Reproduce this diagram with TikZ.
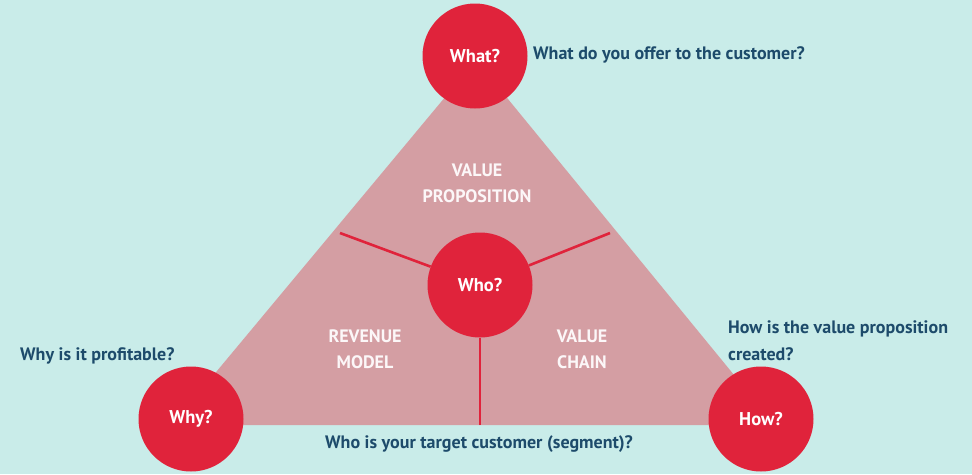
\documentclass[tikz,border=0pt]{standalone}
\usepackage{fontspec}
\setmainfont{PT Sans}
\usepackage{tikz}
\usetikzlibrary{calc,positioning}
\definecolor{bgcyan}{HTML}{C9ECE9}
\definecolor{tri}{HTML}{D49EA3}
\definecolor{bubred}{HTML}{E0233B}
\definecolor{navy}{HTML}{1D4B6B}
\tikzset{
  bubble/.style={circle,fill=bubred,minimum size=105pt,inner sep=0pt,
    text=white,font=\fontsize{18.5}{22}\selectfont\bfseries},
  question/.style={text=navy,font=\fontsize{18}{27}\selectfont\bfseries,
    inner sep=0pt,align=left},
  area/.style={text=white!92!tri,font=\fontsize{18}{26}\selectfont\bfseries,
    inner sep=0pt,align=center},
  spoke/.style={bubred,line width=2.6pt}
}

\begin{document}
\begin{tikzpicture}[x=1pt,y=-1pt]
  \fill[bgcyan] (0,0) rectangle (972,474);
  \useasboundingbox (0,0) rectangle (972,474);
  % triangle
  \coordinate (top) at (476,60);
  \coordinate (left) at (172,425);
  \coordinate (right) at (775,425);
  \fill[tri] (top) -- (left) -- (right) -- cycle;
  % centre
  \node[bubble] (who) at (480,285) {Who?};
  \coordinate (sl) at (340,233);
  \coordinate (sr) at (610,233);
  \coordinate (sb) at (480,425);
  \draw[spoke] (sl) -- (who);
  \draw[spoke] (sr) -- (who);
  \draw[spoke] (sb) -- (who);
  % corners
  \node[bubble] (what) at (475,56) {What?};
  \node[bubble] (why) at (191,419) {Why?};
  \node[bubble] (how) at (761,419) {How?};
  % areas
  \node[area] (vp) at (477,183) {VALUE\\PROPOSITION};
  \node[area] (rm) at (365,349) {REVENUE\\MODEL};
  \node[area] (vc) at (582,349) {VALUE\\CHAIN};
  % questions
  \node[question,anchor=west] (qwhat) at (533,55) {What do you offer to the customer?};
  \node[question,anchor=west] (qwhy) at (20,356) {Why is it profitable?};
  \node[question,anchor=west] (qhow) at (728,341) {How is the value proposition\\created?};
  \node[question,anchor=west] (qwho) at (325,444) {Who is your target customer (segment)?};
\end{tikzpicture}
\end{document}
